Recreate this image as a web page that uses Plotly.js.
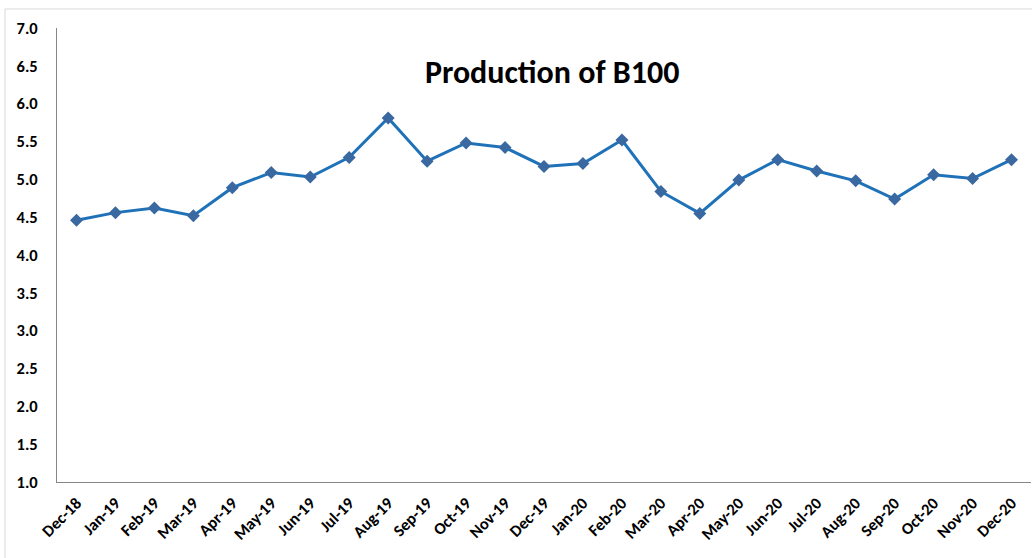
<!DOCTYPE html>
<html>
<head>
<meta charset="utf-8">
<script src="https://cdn.plot.ly/plotly-3.0.1.min.js"></script>
<style>
html,body{margin:0;padding:0;background:#fff;}
#chart{width:1032px;height:558px;}
</style>
</head>
<body>
<div id="chart"></div>
<script>
const months = ["Dec-18","Jan-19","Feb-19","Mar-19","Apr-19","May-19","Jun-19","Jul-19","Aug-19","Sep-19","Oct-19","Nov-19","Dec-19","Jan-20","Feb-20","Mar-20","Apr-20","May-20","Jun-20","Jul-20","Aug-20","Sep-20","Oct-20","Nov-20","Dec-20"];
const production = [4.46,4.56,4.62,4.52,4.89,5.09,5.03,5.29,5.81,5.24,5.48,5.42,5.17,5.21,5.52,4.84,4.55,4.99,5.26,5.11,4.98,4.74,5.06,5.01,5.26];
const yTicks = [1.0,1.5,2.0,2.5,3.0,3.5,4.0,4.5,5.0,5.5,6.0,6.5,7.0];
const titleText = "Production of B100";

const fontFam = "Carlito, 'Liberation Sans Narrow', 'Open Sans', sans-serif";

const trace = {
  x: months,
  y: production,
  type: 'scatter',
  mode: 'lines+markers',
  line: {color: '#1f72b8', width: 3},
  marker: {symbol: 'diamond', size: 10, color: '#3a68a0'},
  hoverinfo: 'x+y'
};

const layout = {
  width: 1032, height: 558,
  margin: {l: 57, r: 1, t: 28, b: 76},
  paper_bgcolor: '#fff', plot_bgcolor: '#fff',
  showlegend: false,
  title: {text: '<b>' + titleText + '</b>', xref: 'container', x: 0.535, xanchor: 'center', y: 0.871, yanchor: 'middle',
          font: {family: fontFam, size: 32, color: '#000'}},
  xaxis: {
    type: 'category',
    range: [-0.5, months.length - 0.5],
    showline: true, linecolor: '#868686', linewidth: 1,
    showgrid: false, zeroline: false, ticks: '',
    tickangle: -45,
    tickfont: {family: fontFam, size: 16.5, color: '#000', weight: 'bold'},
    ticklabelstandoff: 4
  },
  yaxis: {
    range: [1, 7],
    tickvals: yTicks,
    ticktext: yTicks.map(v => v.toFixed(1)),
    showline: true, linecolor: '#868686', linewidth: 1,
    showgrid: false, zeroline: false, ticks: '',
    tickfont: {family: fontFam, size: 16.5, color: '#000', weight: 'bold'},
    ticklabelstandoff: 15
  },
  shapes: [
    {type: 'line', xref: 'paper', yref: 'paper', x0: -0.0534, x1: 1.01, y0: 1.0419, y1: 1.0419, line: {color: '#d9d9d9', width: 1}},
    {type: 'line', xref: 'paper', yref: 'paper', x0: -0.0534, x1: -0.0534, y0: 1.0419, y1: -0.2, line: {color: '#d9d9d9', width: 1}}
  ]
};

Plotly.newPlot('chart', [trace], layout, {displayModeBar: false, staticPlot: true});
</script>
</body>
</html>
